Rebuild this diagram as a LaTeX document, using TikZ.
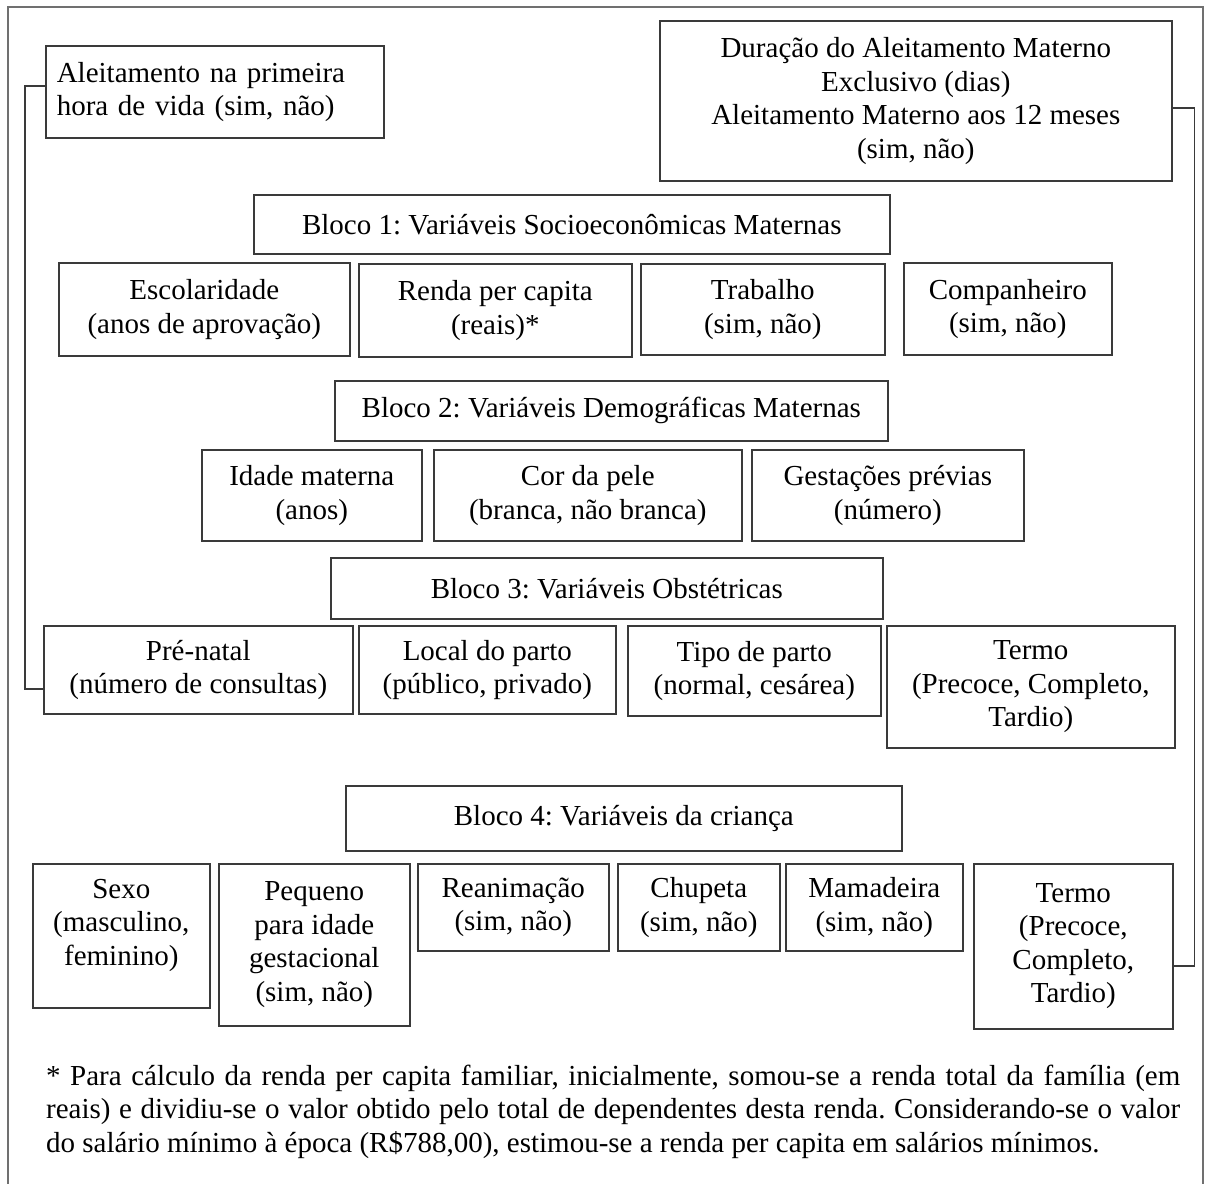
\documentclass[tikz,border=0pt]{standalone}
\usepackage{fontspec}
\setmainfont{Liberation Serif}
\definecolor{boxcol}{HTML}{3A3A3A}
\definecolor{framecol}{HTML}{707070}
\begin{document}
\frenchspacing
\begin{tikzpicture}[x=1pt,y=-1pt,
  box/.style={draw=boxcol, line width=1.6pt, anchor=north west, inner sep=0pt,
    align=center, font=\frenchspacing\fontsize{29}{33.5}\selectfont, text=black},
  txt/.style={inner sep=0pt, align=center, font=\frenchspacing\fontsize{29}{33.5}\selectfont, text=black},
  link/.style={draw=boxcol, line width=1.6pt},
  note/.style={inner sep=0pt, anchor=base west, font=\frenchspacing\fontsize{29}{33.5}\selectfont, text=black}]
\useasboundingbox (0,0) rectangle (1209,1183);
\draw[framecol, line width=1.6pt] (8,1195) -- (8,7) -- (1203,7) -- (1203,1195);
% top boxes
\node[box, minimum height=92pt, text width=316pt, inner xsep=11pt, align=left] (alei) at (45,45)
  {Aleitamento na primeira\\hora de vida (sim, não)};
\node[box, minimum width=512pt, minimum height=160pt] (dur) at (659,20)
  {Duração do Aleitamento Materno\\Exclusivo (dias)\\Aleitamento Materno aos 12 meses\\(sim, não)};
% bloco 1
\node[box, minimum width=636pt, minimum height=59pt] (b1) at (253,194) {Bloco 1: Variáveis Socioeconômicas Maternas};
\node[box, minimum width=291pt, minimum height=93pt] (esc) at (58,262) {Escolaridade\\(anos de aprovação)};
\node[box, minimum width=273pt, minimum height=93pt] (renda) at (358,263) {Renda per capita\\(reais)*};
\node[box, minimum width=244pt, minimum height=91pt] (trab) at (640,263) {Trabalho\\(sim, não)};
\node[box, minimum width=208pt, minimum height=92pt] (comp) at (903,262) {Companheiro\\(sim, não)};
% bloco 2
\node[box, minimum width=553pt, minimum height=60pt] (b2) at (334,380) {Bloco 2: Variáveis Demográficas Maternas};
\node[box, minimum width=220pt, minimum height=91pt] (idade) at (201,449) {Idade materna\\(anos)};
\node[box, minimum width=308pt, minimum height=91pt] (cor) at (433,449) {Cor da pele\\(branca, não branca)};
\node[box, minimum width=272pt, minimum height=91pt] (gest) at (751,449) {Gestações prévias\\(número)};
% bloco 3
\node[box, minimum width=552pt, minimum height=61pt] (b3) at (330,557) {Bloco 3: Variáveis Obstétricas};
\node[box, minimum width=309pt, minimum height=88pt] (pre) at (43,625) {Pré-natal\\(número de consultas)};
\node[box, minimum width=257pt, minimum height=88pt] (local) at (358,625) {Local do parto\\(público, privado)};
\node[box, minimum width=253pt, minimum height=90pt] (tipo) at (627,625) {Tipo de parto\\(normal, cesárea)};
\node[box, minimum width=288pt, minimum height=122pt] (termoa) at (886,625) {Termo\\(Precoce, Completo,\\Tardio)};
% bloco 4
\node[box, minimum width=556pt, minimum height=65pt] (b4) at (345,785) {Bloco 4: Variáveis da criança};
\node[box, minimum width=177pt, minimum height=144pt] (sexo) at (32,863) {};
\node[txt, anchor=north] (sexot) at ([yshift=-16pt]sexo.north) {Sexo\\(masculino,\\feminino)};
\node[box, minimum width=191pt, minimum height=162pt] (peq) at (218,863) {Pequeno\\para idade\\gestacional\\(sim, não)};
\node[box, minimum width=191pt, minimum height=87pt] (rean) at (417,863) {Reanimação\\(sim, não)};
\node[box, minimum width=162pt, minimum height=87pt] (chup) at (617,863) {Chupeta\\(sim, não)};
\node[box, minimum width=177pt, minimum height=87pt] (mam) at (785,863) {Mamadeira\\(sim, não)};
\node[box, minimum width=199pt, minimum height=165pt] (termob) at (973,863) {Termo\\(Precoce,\\Completo,\\Tardio)};
% connectors
\draw[link] ([yshift=6pt]alei.west) -- ++(-20,0) |- ([yshift=-19pt]pre.west);
\draw[link] ([yshift=-7pt]dur.east) -- ++(22,0) |- ([yshift=-19.5pt]termob.east);
% footnote
\node[note] (n1) at (46,1085) {\makebox[1134pt][s]{* Para cálculo da renda per capita familiar, inicialmente, somou-se a renda total da família (em}};
\node[note] (n2) at (46,1118.5) {\makebox[1134pt][s]{reais) e dividiu-se o valor obtido pelo total de dependentes desta renda. Considerando-se o valor}};
\node[note] (n3) at (46,1152) {do salário mínimo à época (R\$788,00), estimou-se a renda per capita em salários mínimos.};
\end{tikzpicture}
\end{document}
